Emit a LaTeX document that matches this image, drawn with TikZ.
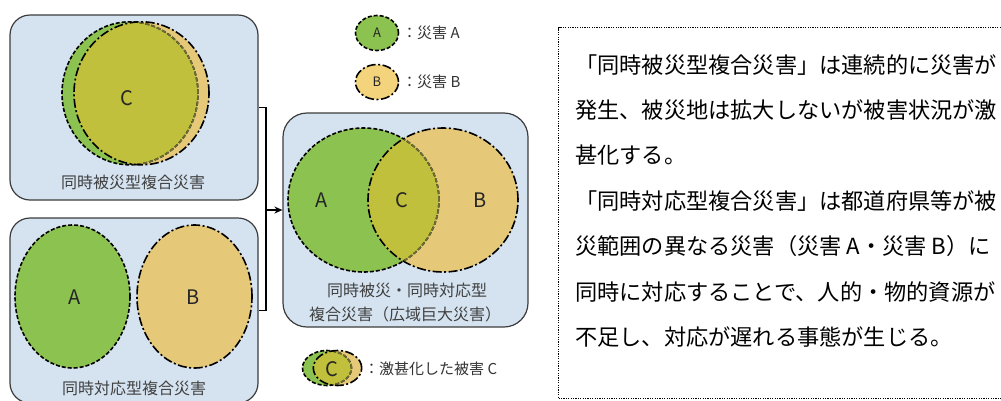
\documentclass[tikz,border=0pt]{standalone}
\usepackage{fontspec}
\setmainfont{Noto Sans CJK JP}
\usetikzlibrary{arrows.meta}
\definecolor{boxfill}{HTML}{D5E3F1}
\definecolor{boxline}{HTML}{3C3C3C}
\definecolor{gA}{HTML}{8CC350}
\definecolor{yB}{HTML}{E5C878}
\definecolor{olv}{HTML}{C0C03C}
\definecolor{yL}{HTML}{F3D47C}
\definecolor{lbl}{HTML}{404040}
\definecolor{innerln}{HTML}{6E6E3A}
\tikzset{
  panel/.style={draw=boxline, fill=boxfill, line width=1.2pt, rounded corners=20pt, inner sep=0pt},
  dA/.style={line width=1.6pt, dash pattern=on 4pt off 2pt},
  dB/.style={line width=1.6pt, dash pattern=on 9pt off 2.5pt on 2pt off 2.5pt},
  lab/.style={font=\fontsize{16}{18}\selectfont, text=lbl, inner sep=0pt},
  letter/.style={font=\fontsize{20}{22}\selectfont, text=black!85, inner sep=0pt},
  smallletter/.style={font=\fontsize{13}{15}\selectfont, text=black!85, inner sep=0pt},
  legtxt/.style={font=\fontsize{15}{17}\selectfont, text=black!80, anchor=west, inner sep=0pt},
  desc/.style={font=\fontsize{22.2}{26}\selectfont, anchor=west, inner sep=0pt},
  conn/.style={line width=1.5pt, black},
}
% #1 green cx, #2 yellow cx, #3 cy, #4 green rx, #5 yellow rx, #6 ry
\newcommand\drawvenn[6]{%
  \fill[gA] (#1,#3) ellipse[x radius=#4pt, y radius=#6pt];
  \fill[yB] (#2,#3) ellipse[x radius=#5pt, y radius=#6pt];
  \begin{scope}
    \clip (#1,#3) ellipse[x radius=#4pt, y radius=#6pt];
    \fill[olv] (#2,#3) ellipse[x radius=#5pt, y radius=#6pt];
  \end{scope}
  \draw[dA] (#1,#3) ellipse[x radius=#4pt, y radius=#6pt];
  \begin{scope}
    \clip (#2,#3) ellipse[x radius=#5pt, y radius=#6pt];
    \draw[dA, innerln] (#1,#3) ellipse[x radius=#4pt, y radius=#6pt];
  \end{scope}
  \draw[dB] (#2,#3) ellipse[x radius=#5pt, y radius=#6pt];
}
\begin{document}
\begin{tikzpicture}[x=1pt, y=-1pt]
\useasboundingbox (0,0) rectangle (1001,400);

% panels
\node[panel, minimum width=248pt, minimum height=185pt] (top) at (134,107.5) {};
\node[panel, minimum width=248pt, minimum height=185pt] (bot) at (134,310.5) {};
\node[panel, minimum width=245pt, minimum height=214pt, rounded corners=24pt] (mid) at (405.5,220) {};

% top panel: nearly coincident disasters
\drawvenn{130}{141.5}{93.3}{68}{67.5}{71.5}
\node[letter] (tC) at (127,98) {C};
\node[lab] (tlab) at (133,182) {同時被災型複合災害};

% bottom panel: separate disasters
\fill[gA] (72.5,296.5) ellipse[x radius=57.5pt, y radius=71.5pt];
\draw[dA] (72.5,296.5) ellipse[x radius=57.5pt, y radius=71.5pt];
\fill[yB] (194.5,296.5) ellipse[x radius=57.5pt, y radius=71.5pt];
\draw[dB] (194.5,296.5) ellipse[x radius=57.5pt, y radius=71.5pt];
\node[letter] (bA) at (75,297) {A};
\node[letter] (bB) at (193,297) {B};
\node[lab] (blab) at (134,388) {同時対応型複合災害};

% middle panel
\drawvenn{363.5}{443}{200}{75.5}{75}{72}
\node[letter] (mA) at (322,200) {A};
\node[letter] (mC) at (402,200) {C};
\node[letter] (mB) at (480,200) {B};
\node[lab] (mlab1) at (407,290) {同時被災・同時対応型};
\node[lab] (mlab2) at (405,314) {複合災害（広域巨大災害）};

% connectors
\coordinate (j) at (266,210);
\draw[conn, line join=miter] (top.east) -| (j) |- (bot.east);
\draw[conn, -{Stealth[length=8pt,width=7pt]}] (j) -- (j -| mid.west);

% legend
\fill[gA] (377,33) ellipse[x radius=21.5pt, y radius=17.5pt];
\draw[dA] (377,33) ellipse[x radius=21.5pt, y radius=17.5pt];
\node[smallletter] (lgA) at (377,33) {A};
\node[legtxt] (lgAt) at (402,33) {：災害 A};
\fill[yL] (377,82) ellipse[x radius=21.5pt, y radius=17.5pt];
\draw[dB] (377,82) ellipse[x radius=21.5pt, y radius=17.5pt];
\node[smallletter] (lgB) at (377,82) {B};
\node[legtxt] (lgBt) at (402,82) {：災害 B};
\drawvenn{327}{337.5}{368}{24.5}{24.2}{17.5}
\node[letter] (lgC) at (332,369) {C};
\node[legtxt] (lgCt) at (364,369) {：激甚化した被害 C};

% description box
\node[draw, line width=1.2pt, dash pattern=on 1.2pt off 1.2pt, minimum width=452pt, minimum height=371pt, anchor=north west, inner sep=0pt] (descbox) at (558,27) {};
\node[desc] (t1) at (575,65) {「同時被災型複合災害」は連続的に災害が};
\node[desc] (t2) at (575,110) {発生、被災地は拡大しないが被害状況が激};
\node[desc] (t3) at (575,155) {甚化する。};
\node[desc] (t4) at (575,201) {「同時対応型複合災害」は都道府県等が被};
\node[desc] (t5) at (575,246) {災範囲の異なる災害（災害 A・災害 B）に};
\node[desc] (t6) at (575,292) {同時に対応することで、人的・物的資源が};
\node[desc] (t7) at (575,337) {不足し、対応が遅れる事態が生じる。};
\end{tikzpicture}
\end{document}
